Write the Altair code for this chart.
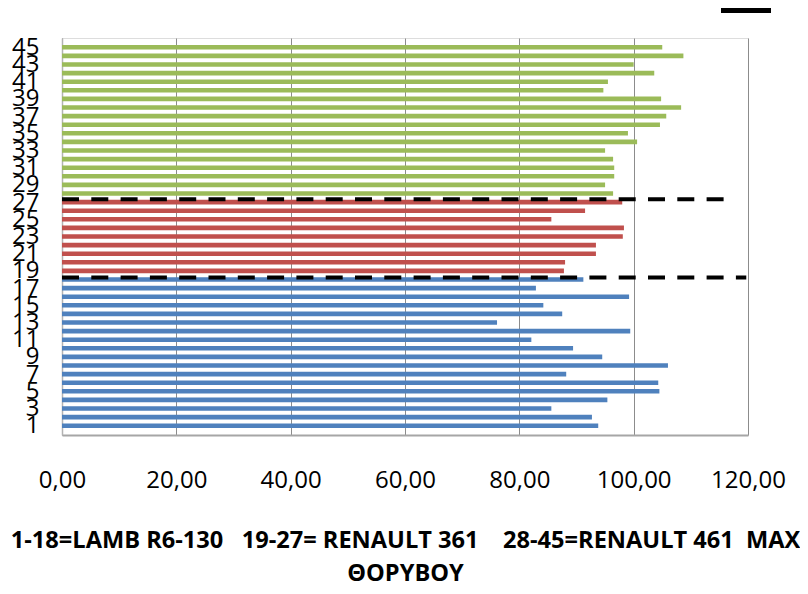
import altair as alt
import pandas as pd

# Values (bars 1..45)
ids = list(range(1, 46))
values = [
    93.8, 92.7, 85.6, 95.4, 104.5, 104.3, 88.2, 106.0, 94.5, 89.4,   # 1-10
    82.1, 99.4, 76.1, 87.5, 84.2, 99.2, 82.9, 91.2,                  # 11-18
    87.8, 88.0, 93.4, 93.4, 98.1, 98.3, 85.6, 91.5, 98.0,            # 19-27
    96.4, 95.0, 96.6, 96.6, 96.4, 95.0, 100.6, 99.0, 104.6, 105.7,   # 28-37
    108.3, 104.8, 94.7, 95.5, 103.6, 100.0, 108.7, 105.0             # 38-45
]
groups = ["LAMB R6-130"] * 18 + ["RENAULT 361"] * 9 + ["RENAULT 461"] * 18
group_names = ["LAMB R6-130", "RENAULT 361", "RENAULT 461"]
group_colors = ["#4F81BD", "#C0504D", "#9BBB59"]

# Dashed MAX reference lines (position on the category axis, end value)
max_pos = [27.33, 18.24]
max_end = [116.4, 119.7]
max_start = [0, 0]

x_ticks = [0, 20, 40, 60, 80, 100, 120]
y_ticks = list(range(1, 46, 2))
title_lines = [
    "1-18=LAMB R6-130\u00a0\u00a0 19-27= RENAULT 361\u00a0\u00a0\u00a0 28-45=RENAULT 461\u00a0 MAX",
    "ΘΟΡΥΒΟΥ",
]

bars_df = pd.DataFrame({"id": ids, "value": values, "group": groups})
max_df = pd.DataFrame({"pos": max_pos, "x0": max_start, "x1": max_end, "series": ["MAX"] * 2})

FONT = "Open Sans, sans-serif"

x_axis = alt.Axis(
    values=x_ticks,
    labelExpr="replace(format(datum.value, '.2f'), '.', ',')",
    grid=True, gridColor="#8c8c8c", gridWidth=1,
    ticks=False, domainColor="#a6a6a6", domainWidth=2,
    labelFont=FONT, labelFontSize=24, labelColor="#000000", labelPadding=33,
    labelOverlap=False, labelFlush=False,
    title=title_lines, titleFont=FONT, titleFontSize=23.6, titleFontWeight="bold",
    titleColor="#000000", titleLineHeight=33, titlePadding=36,
)
y_axis = alt.Axis(
    values=y_ticks, format="d", grid=False, ticks=False,
    domainColor="#b3b3b3", domainWidth=1.5,
    labelFont=FONT, labelFontSize=24, labelColor="#000000", labelPadding=23,
    labelOverlap=False, labelFlush=False, labelBound=False, title=None,
)
x_scale = alt.Scale(domain=[0, 120], nice=False)
y_scale = alt.Scale(domain=[0.5, 45.5], nice=False, zero=False)

bars = alt.Chart(bars_df).mark_bar(orient="horizontal", size=4.6).encode(
    x=alt.X("value:Q", scale=x_scale, axis=x_axis),
    y=alt.Y("id:Q", scale=y_scale, axis=y_axis),
    color=alt.Color("group:N", scale=alt.Scale(domain=group_names, range=group_colors), legend=None),
)

rules = alt.Chart(max_df).mark_rule(strokeDash=[17, 12.3], strokeWidth=4, strokeCap="butt").encode(
    x=alt.X("x0:Q", scale=x_scale, axis=x_axis),
    x2="x1:Q",
    y=alt.Y("pos:Q", scale=y_scale, axis=y_axis),
    color=alt.Color(
        "series:N", scale=alt.Scale(range=["#000000"]),
        legend=alt.Legend(
            orient="none", legendX=656, legendY=-56, title=None,
            symbolType="stroke", symbolSize=2500, symbolStrokeWidth=6,
            symbolDash=[100, 0], labelFontSize=1, labelColor="#ffffff", padding=0,
        ),
    ),
)

chart = alt.layer(bars, rules).resolve_scale(color="independent").properties(
    width=686, height=397,
    autosize=alt.AutoSizeParams(type="none"),
    padding={"left": 54, "top": 30, "right": 52, "bottom": 151},
).configure_view(strokeWidth=0, strokeOpacity=0).configure(background="#ffffff")

chart.save("out.html", embed_options={"renderer": "svg", "actions": False})
